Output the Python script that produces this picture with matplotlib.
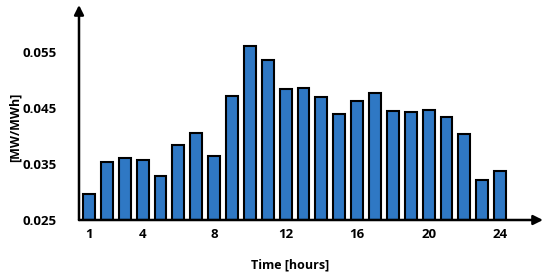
import matplotlib.pyplot as plt
import numpy as np

hours = np.arange(1, 25)
values = [0.0297, 0.0353, 0.0361, 0.0357, 0.0329, 0.0384, 0.0405, 0.0364,
          0.0472, 0.0562, 0.0536, 0.0484, 0.0486, 0.0471, 0.0439, 0.0463,
          0.0478, 0.0445, 0.0443, 0.0447, 0.0434, 0.0404, 0.0322, 0.0337]
xticks = [1, 4, 8, 12, 16, 20, 24]
yticks = [0.025, 0.035, 0.045, 0.055]
base = 0.025

plt.rcParams['font.family'] = ['Open Sans', 'DejaVu Sans']

fig = plt.figure(figsize=(5.5, 2.78), dpi=100)
ax = fig.add_axes([79 / 550, 58 / 278, 464 / 550, 215 / 278])

ax.bar(hours, np.array(values) - base, width=0.66, bottom=base,
       color='#2f78c4', edgecolor='black', linewidth=1.5, zorder=2)

ax.set_xlim(0.44, 26.4)
ax.set_ylim(base, 0.0635)
ax.set_xticks(xticks)
ax.set_xticklabels([str(t) for t in xticks], fontweight='bold', fontsize=9.5)
ax.set_yticks(yticks)
ax.set_yticklabels([f'{t:.3f}' for t in yticks], fontweight='bold', fontsize=9.5)
ax.tick_params(axis='x', length=0, pad=6)
ax.tick_params(axis='y', length=0, pad=16)

for s in ax.spines.values():
    s.set_visible(False)

# axis arrows
ax.annotate('', xy=(0, 1.0), xytext=(0, 0), xycoords='axes fraction',
            arrowprops=dict(arrowstyle='-|>', color='black', lw=1.8,
                            mutation_scale=14, shrinkA=0, shrinkB=0))
ax.annotate('', xy=(1.0, 0), xytext=(0, 0), xycoords='axes fraction',
            arrowprops=dict(arrowstyle='-|>', color='black', lw=1.8,
                            mutation_scale=14, shrinkA=0, shrinkB=0))

ax.set_xlabel('Time [hours]', fontweight='bold', fontsize=9)
ax.xaxis.set_label_coords(0.455, -0.18)
ax.set_ylabel('[MW/MWh]', fontweight='bold', fontsize=9)
ax.yaxis.set_label_coords(-0.124, 0.43)

fig.savefig('out.png', dpi=100)
